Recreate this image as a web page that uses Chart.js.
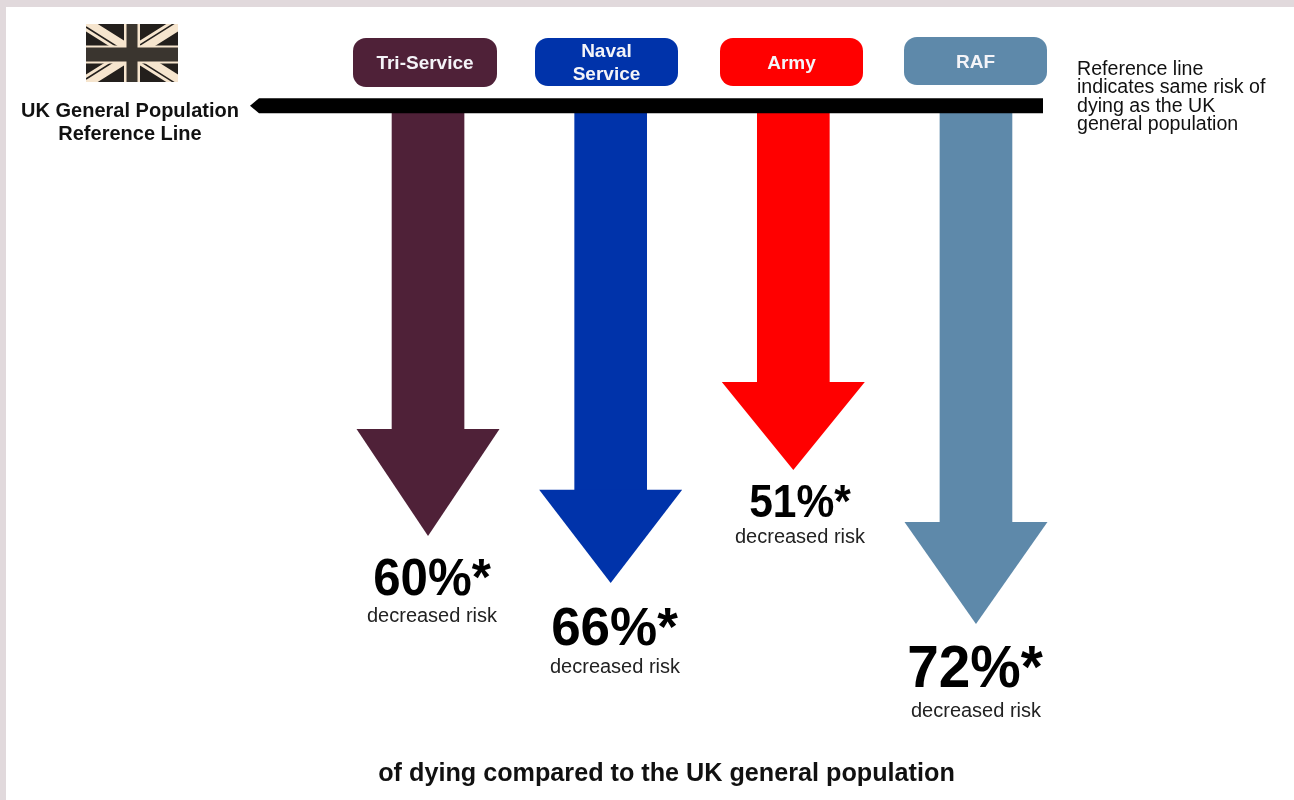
<!DOCTYPE html>
<html>
<head>
<meta charset="utf-8">
<style>html,body{margin:0;padding:0;background:#fff}canvas{display:block}</style>
<script src="https://cdn.jsdelivr.net/npm/chart.js@4"></script>
</head>
<body>
<canvas id="c" width="1294" height="800"></canvas>
<script>
const categories = ['Tri-Service', 'Naval Service', 'Army', 'RAF'];
const riskPercent = [60, 66, 51, 72];
const arrowTips = [60, 66.4, 51, 72];
const shaftEnds = [45.4, 53.7, 39, 58.1];
const colours = ['#4F2138', '#0033AA', '#FF0000', '#5E89AA'];

const FONT = '"Liberation Sans", Arial, sans-serif';
const percentSizes = [51.5, 53, 46, 60];
const percentStretch = [0.955, 1, 0.925, 0.945];
const percentBaselines = [594.5, 645, 517, 687];
const noteBaselines = [622, 673, 543, 717];
const percentX = [432, 614.5, 800, 975];
const noteX = [432, 615, 800, 976];
const boxes = [[353, 38, 144, 49], [535, 38, 143, 48], [720, 38, 143, 48], [904, 37, 143, 48]];

function text(ctx, str, x, y, font, color, align) {
  ctx.font = font; ctx.fillStyle = color; ctx.textAlign = align || 'center';
  ctx.textBaseline = 'alphabetic'; ctx.fillText(str, x, y);
}

function stretchedText(ctx, str, x, y, font, color, sx) {
  ctx.save();
  ctx.translate(x, y);
  ctx.scale(sx, 1);
  text(ctx, str, 0, 0, font, color);
  ctx.restore();
}

function drawFlag(ctx, x, y, w, h) {
  const tan = '#F6E5CE', dark = '#231F1C', cross = '#3A352F';
  ctx.save();
  ctx.beginPath(); ctx.rect(x, y, w, h); ctx.clip();
  ctx.fillStyle = dark; ctx.fillRect(x, y, w, h);
  ctx.lineCap = 'butt';
  ctx.strokeStyle = tan; ctx.lineWidth = 12.5;
  ctx.beginPath();
  ctx.moveTo(x, y); ctx.lineTo(x + w, y + h);
  ctx.moveTo(x + w, y); ctx.lineTo(x, y + h);
  ctx.stroke();
  ctx.strokeStyle = dark; ctx.lineWidth = 1.5;
  ctx.beginPath();
  ctx.moveTo(x, y + 3); ctx.lineTo(x + w, y + h + 3);
  ctx.moveTo(x + w, y - 3); ctx.lineTo(x, y + h - 3);
  ctx.stroke();
  ctx.fillStyle = tan;
  ctx.fillRect(x + w / 2 - 8, y, 16, h);
  ctx.fillRect(x, y + h / 2 - 7.5, w, 18);
  ctx.fillStyle = cross;
  ctx.fillRect(x + w / 2 - 5.5, y, 11, h);
  ctx.fillRect(x, y + h / 2 - 5.5, w, 14);
  ctx.restore();
}

const arrowPlugin = {
  id: 'arrows',
  beforeDraw(chart) {
    const ctx = chart.ctx;
    ctx.save();
    ctx.fillStyle = '#FFFFFF'; ctx.fillRect(0, 0, 1294, 800);
    ctx.fillStyle = '#E1D9DC'; ctx.fillRect(0, 0, 1294, 7); ctx.fillRect(0, 0, 6, 800);
    ctx.restore();
  },
  afterDatasetsDraw(chart) {
    const ctx = chart.ctx, yScale = chart.scales.y;
    const bars = chart.getDatasetMeta(0).data;
    ctx.save();
    bars.forEach((bar, i) => {
      const yStart = yScale.getPixelForValue(shaftEnds[i]);
      const yTip = yScale.getPixelForValue(arrowTips[i]);
      ctx.fillStyle = colours[i];
      ctx.beginPath();
      ctx.moveTo(bar.x - 71.5, yStart);
      ctx.lineTo(bar.x + 71.5, yStart);
      ctx.lineTo(bar.x, yTip);
      ctx.closePath();
      ctx.fill();
      stretchedText(ctx, riskPercent[i] + '%*', percentX[i], percentBaselines[i], 'bold ' + percentSizes[i] + 'px ' + FONT, '#000', percentStretch[i]);
      text(ctx, 'decreased risk', noteX[i], noteBaselines[i], '20px ' + FONT, '#222');
    });

    // reference line at zero risk difference
    const yTop = yScale.getPixelForValue(0.3), yBottom = yScale.getPixelForValue(2.35);
    ctx.fillStyle = '#000';
    ctx.beginPath();
    ctx.moveTo(250, (yTop + yBottom) / 2);
    ctx.lineTo(259, yTop);
    ctx.lineTo(1043, yTop);
    ctx.lineTo(1043, yBottom);
    ctx.lineTo(259, yBottom);
    ctx.closePath();
    ctx.fill();

    // category boxes
    boxes.forEach((b, i) => {
      ctx.fillStyle = colours[i];
      ctx.beginPath();
      ctx.roundRect(b[0], b[1], b[2], b[3], 13);
      ctx.fill();
      const cx = b[0] + b[2] / 2;
      const font = 'bold 19px ' + FONT;
      if (categories[i] === 'Naval Service') {
        text(ctx, 'Naval', cx, 57, font, '#F4F4F8');
        text(ctx, 'Service', cx, 80, font, '#F4F4F8');
      } else {
        text(ctx, categories[i], cx, b[1] + 31, font, '#F4F4F8');
      }
    });

    drawFlag(ctx, 86, 24, 92, 58);
    text(ctx, 'UK General Population', 130, 117, 'bold 20px ' + FONT, '#111');
    text(ctx, 'Reference Line', 130, 140, 'bold 20px ' + FONT, '#111');
    const noteLines = ['Reference line', 'indicates same risk of', 'dying as the UK', 'general population'];
    noteLines.forEach((l, i) => text(ctx, l, 1077, 75 + i * 18.4, '19.6px ' + FONT, '#111', 'left'));
    text(ctx, 'of dying compared to the UK general population', 666.5, 781, 'bold 25.2px ' + FONT, '#111');
    ctx.restore();
  }
};

new Chart(document.getElementById('c'), {
  type: 'bar',
  data: {
    labels: categories,
    datasets: [{
      data: shaftEnds,
      base: 1,
      backgroundColor: colours,
      borderWidth: 0,
      barThickness: 72
    }]
  },
  options: {
    responsive: false,
    animation: false,
    layout: { padding: { left: 336.7, right: 226.7, top: 96, bottom: 0 } },
    plugins: { legend: { display: false }, tooltip: { enabled: false }, title: { display: false } },
    scales: {
      x: { display: false, grid: { display: false } },
      y: { display: false, reverse: true, min: 0, max: 96, grid: { display: false } }
    }
  },
  plugins: [arrowPlugin]
});
</script>
</body>
</html>
